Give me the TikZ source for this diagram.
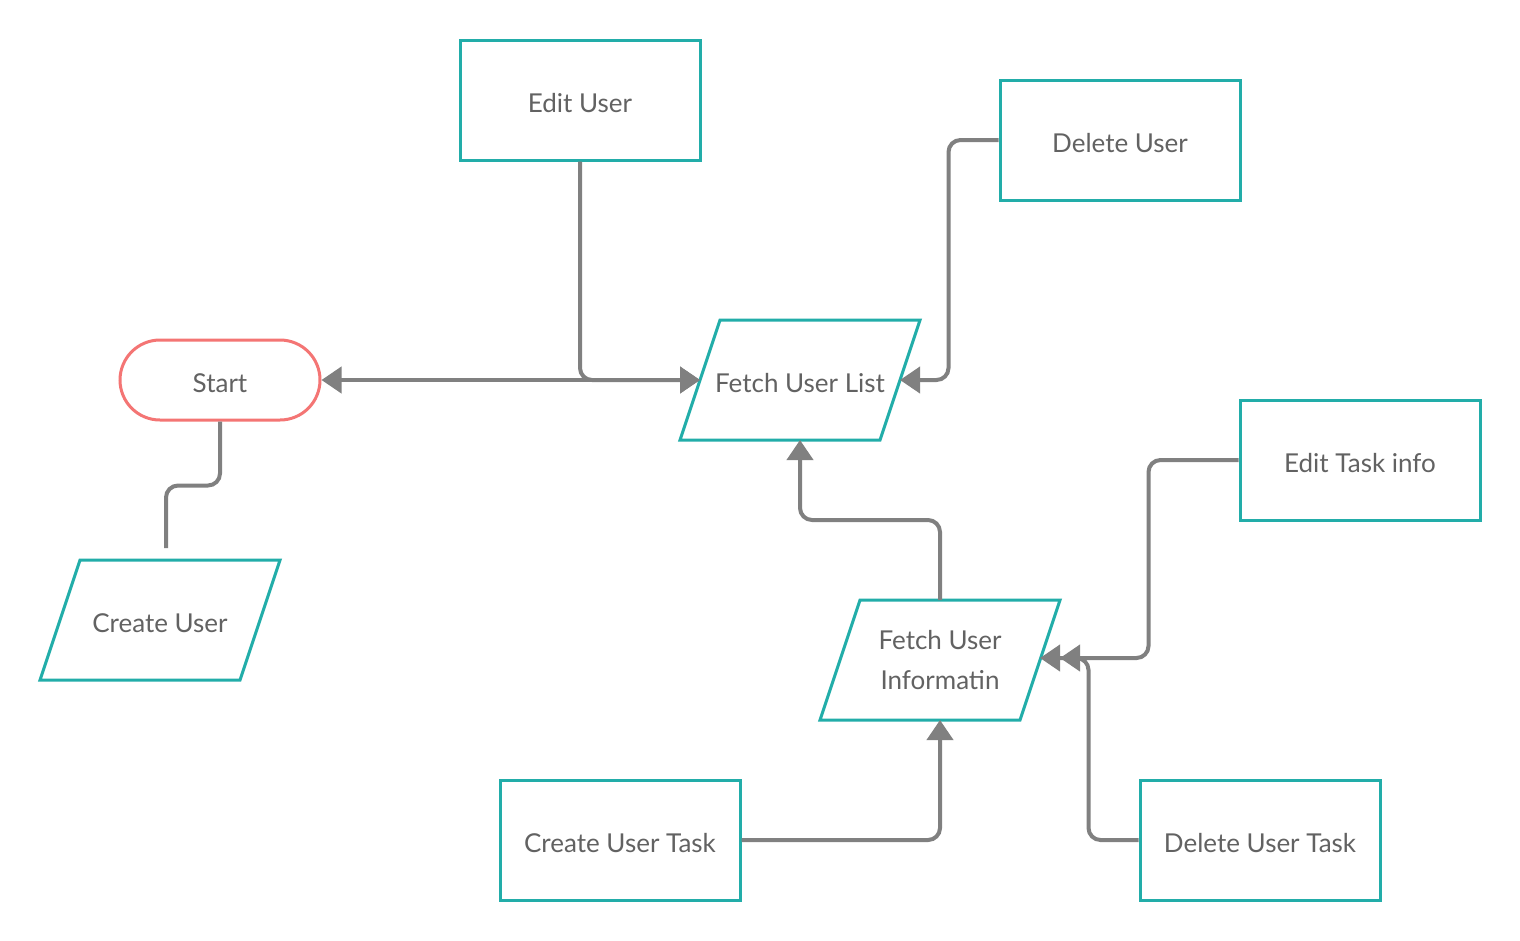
\documentclass[tikz,border=0pt]{standalone}
\usepackage{fontspec}
\setmainfont{Lato}
\usetikzlibrary{arrows.meta,calc,shapes.misc}
\definecolor{tealc}{HTML}{22ADA9}
\definecolor{redc}{HTML}{F47574}
\definecolor{linec}{HTML}{808080}
\definecolor{txt}{HTML}{626262}
\newcommand\drawpara[1]{%
  \draw[tealc,line width=3pt,line join=miter]
    ($(#1.north west)+(20,0)$) -- ($(#1.north east)+(20,0)$) --
    ($(#1.south east)+(-20,0)$) -- ($(#1.south west)+(-20,0)$) -- cycle;}
\begin{document}
\begin{tikzpicture}[x=1pt,y=-1pt,
  font=\fontsize{26}{32}\selectfont, text=txt,
  oneline/.style={text height=24pt,text depth=0pt},
  box/.style={oneline,draw=tealc,line width=3pt,minimum width=240pt,minimum height=120pt,inner sep=0pt},
  para/.style={minimum width=200pt,minimum height=120pt,inner sep=0pt,outer sep=0pt,align=center},
  term/.style={oneline,draw=redc,line width=3pt,rounded rectangle,minimum width=200pt,minimum height=80pt,inner sep=0pt},
  conn/.style={draw=linec,line width=4pt,rounded corners=12pt},
  tip/.style={-{Triangle[length=20pt,width=26pt]}},
  tips/.style={{Triangle[length=20pt,width=26pt]}-{Triangle[length=20pt,width=26pt]}}
]
\useasboundingbox (0,0) rectangle (1520,940);
\fill[white] (0,0) rectangle (1520,940);

\node[box] (eu) at (580,100) {Edit User};
\node[box] (du) at (1120,140) {Delete User};
\node[term] (start) at (220,380) {Start};
\node[para,oneline] (fl) at (800,380) {Fetch User List};
\node[box] (et) at (1360,460) {Edit Task info};
\node[para,oneline] (cu) at (160,620) {Create User};
\node[para,font=\fontsize{26}{40}\selectfont] (fi) at (940,660) {Fetch User\\Informatin};
\node[box] (ct) at (620,840) {Create User Task};
\node[box] (dt) at (1260,840) {Delete User Task};

\drawpara{fl}
\drawpara{cu}
\drawpara{fi}

\draw[conn,tips] (start.east) -- (fl.west);
\draw[conn,tip] (eu.south) |- (fl.west);
\draw[conn,tip] (du.west) -- ++(-50,0) |- (fl.east);
\draw[conn] (start.south) -- ++(0,64) -| ($(cu.north)+(6,-12)$);
\draw[conn,tip] (fi.north) -- ++(0,-80) -| (fl.south);
\draw[conn,tip] (et.west) -- ++(-90,0) |- ($(fi.east)+(0,-2)$);
\draw[conn,tip] (dt.west) -- ++(-50,0) |- ($(fi.east)+(20,-2)$);
\draw[conn,tip] (ct.east) -| (fi.south);
\end{tikzpicture}
\end{document}
